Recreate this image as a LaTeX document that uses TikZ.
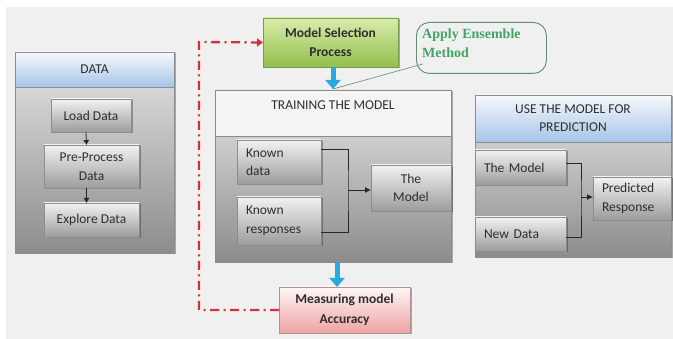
\documentclass[tikz,border=0pt]{standalone}
\usepackage{fontspec}
\setmainfont{Carlito}
\newfontfamily\calloutfont{Liberation Serif}
\usetikzlibrary{arrows.meta,calc,shadows}
\definecolor{bgc}{HTML}{F0F0F0}
\definecolor{bordc}{HTML}{8C8C8C}
\definecolor{pbtop}{HTML}{E6E6E6}
\definecolor{pbbot}{HTML}{8C8C8C}
\definecolor{ibtop}{HTML}{F2F2F2}
\definecolor{ibbot}{HTML}{9C9C9C}
\definecolor{hbtop}{HTML}{F7F9FC}
\definecolor{hbbot}{HTML}{A6C4E8}
\definecolor{thfill}{HTML}{F4F4F4}
\definecolor{grtop}{HTML}{D9ECAC}
\definecolor{grbot}{HTML}{92BF4A}
\definecolor{grbord}{HTML}{7A9A50}
\definecolor{pktop}{HTML}{FDF6F6}
\definecolor{pkbot}{HTML}{EFA3A3}
\definecolor{pkbord}{HTML}{B09090}
\definecolor{bluearr}{HTML}{29A9E1}
\definecolor{redline}{HTML}{D6303A}
\definecolor{callbord}{HTML}{5E8C74}
\definecolor{calltext}{HTML}{45A366}
\definecolor{txt}{HTML}{2E2E2E}
\tikzset{
  shad/.style={drop shadow={shadow xshift=1.5pt,shadow yshift=-1.5pt,fill=black,opacity=0.3}},
  panel/.style={draw=bordc, line width=0.8pt, top color=pbtop, bottom color=pbbot, inner sep=0pt, outer sep=0pt, anchor=north west, shad},
  bluehdr/.style={draw=bordc, line width=0.8pt, top color=hbtop, bottom color=hbbot, inner sep=0pt, outer sep=0pt, anchor=north west, align=center, text=txt, font=\fontsize{13.5}{18}\selectfont},
  plainhdr/.style={draw=bordc, line width=0.8pt, fill=thfill, inner sep=0pt, outer sep=0pt, anchor=north west},
  innerbox/.style={draw=bordc, line width=0.6pt, top color=ibtop, bottom color=ibbot, inner sep=0pt, outer sep=0pt, anchor=north west, align=center, text=txt, font=\fontsize{13.5}{18.5}\selectfont, shad},
  leftbox/.style={innerbox, align=left, inner xsep=9pt},
  greenbox/.style={draw=grbord, line width=0.6pt, top color=grtop, bottom color=grbot, inner sep=0pt, outer sep=0pt, anchor=north west, align=center, text=txt, font=\bfseries\fontsize{13.5}{19.5}\selectfont, shad},
  pinkbox/.style={draw=pkbord, line width=0.6pt, top color=pktop, bottom color=pkbot, inner sep=0pt, outer sep=0pt, anchor=north west, align=center, text=txt, font=\bfseries\fontsize{13.5}{19.5}\selectfont, shad},
  conn/.style={draw=black!85, line width=0.8pt},
  bigarrow/.style={draw=bluearr, line width=5pt, -{Triangle[width=15pt,length=9pt]}},
  redpath/.style={draw=redline, line width=2.3pt, dash pattern=on 9pt off 4.5pt on 2pt off 4.5pt, -{Triangle[width=8pt,length=6pt]}},
}
\begin{document}
\begin{tikzpicture}[x=1pt,y=-1pt]
\useasboundingbox (0,0) rectangle (673,339);
\fill[bgc] (6,7) rectangle (673,339);

% ---------- DATA panel
\node[panel, minimum width=159pt, minimum height=201pt] (dp) at (15,52) {};
\node[bluehdr, minimum width=159pt, minimum height=35pt] (dh) at (15,52) {DATA};
\node[innerbox, minimum width=80pt, minimum height=33pt] (ld) at (51,99) {Load Data};
\node[innerbox, minimum width=95pt, minimum height=43pt] (pp) at (44,145) {Pre-Process\\Data};
\node[innerbox, minimum width=95pt, minimum height=34pt] (ed) at (44,203) {Explore Data};
\draw[conn, -{Latex[length=5pt,width=6pt]}] ($(ld.south)+(-5,0)$) -- ($(pp.north)+(-5,0)$);
\draw[conn, -{Latex[length=5pt,width=6pt]}] ($(pp.south)+(-5,0)$) -- ($(ed.north)+(-5,0)$);

% ---------- TRAINING panel
\node[panel, minimum width=236pt, minimum height=172pt] (tr) at (215,90) {};
\node[plainhdr, minimum width=236pt, minimum height=46pt] (th) at (215,90) {};
\node[text=txt, font=\fontsize{13.5}{18}\selectfont, inner sep=0pt] (tt) at (333,105) {TRAINING THE MODEL};
\node[leftbox, minimum width=84pt, minimum height=44pt, text width=66pt] (kd) at (237,140) {Known\\data};
\node[leftbox, minimum width=84pt, minimum height=48pt, text width=66pt] (kr) at (237,197) {Known\\responses};
\node[innerbox, minimum width=80pt, minimum height=46pt] (tm) at (371,165) {The\\Model};
\coordinate (tj) at (348,190);
\draw[conn] ($(kd.north east)+(0,9)$) -| (tj) |- ($(kr.north east)+(0,35)$);
\draw[conn, -{Latex[length=6pt,width=6pt]}] (tj) -- (tj -| tm.west);

% ---------- PREDICTION panel
\node[panel, minimum width=196pt, minimum height=162pt] (pr) at (475,95) {};
\node[bluehdr, minimum width=196pt, minimum height=47pt] (ph) at (475,95) {USE THE MODEL FOR\\PREDICTION};
\node[leftbox, minimum width=91pt, minimum height=35pt, text width=73pt] (pm) at (475,150) {The Model};
\node[leftbox, minimum width=91pt, minimum height=34pt, text width=73pt] (nd) at (475,217) {New Data};
\node[leftbox, minimum width=78pt, minimum height=43pt, text width=60pt] (rs) at (593,177) {Predicted\\Response};
\coordinate (pj) at (581,197);
\draw[conn] ($(pm.north east)+(0,13)$) -| (pj) |- ($(nd.north east)+(0,20)$);
\draw[conn, -{Latex[length=6pt,width=6pt]}] (pj) -- (pj -| rs.west);

% ---------- Model selection / measuring
\node[greenbox, minimum width=135pt, minimum height=49pt] (ms) at (263,18) {Model Selection\\Process};
\node[pinkbox, minimum width=131pt, minimum height=46pt] (ma) at (279,287) {Measuring model\\Accuracy};

% ---------- Callout
\node[draw=callbord, line width=0.9pt, rounded corners=13pt, fill=bgc, minimum width=130pt, minimum height=51pt, anchor=north west, inner sep=0pt] (ae) at (416,22) {};
\node[anchor=north west, inner sep=0pt, align=left, text=calltext, font=\calloutfont\bfseries\fontsize{14}{19}\selectfont] (aet) at (422,29) {Apply Ensemble\\Method};
\coordinate (tip) at (333,89);
\draw[draw=callbord, line width=0.6pt] ($(ae.south west)+(7,-10)$) -- (tip);

% ---------- Blue arrows
\draw[bigarrow] (ms.south -| tip) -- (tip);
\coordinate (bt) at (337,262);
\draw[bigarrow] (bt) -- (bt |- ma.north);

% ---------- Red dash-dot loop
\coordinate (rc) at (199,42);
\draw[redpath] (ma.west) -| (rc) -- (ms.west);
\end{tikzpicture}
\end{document}
